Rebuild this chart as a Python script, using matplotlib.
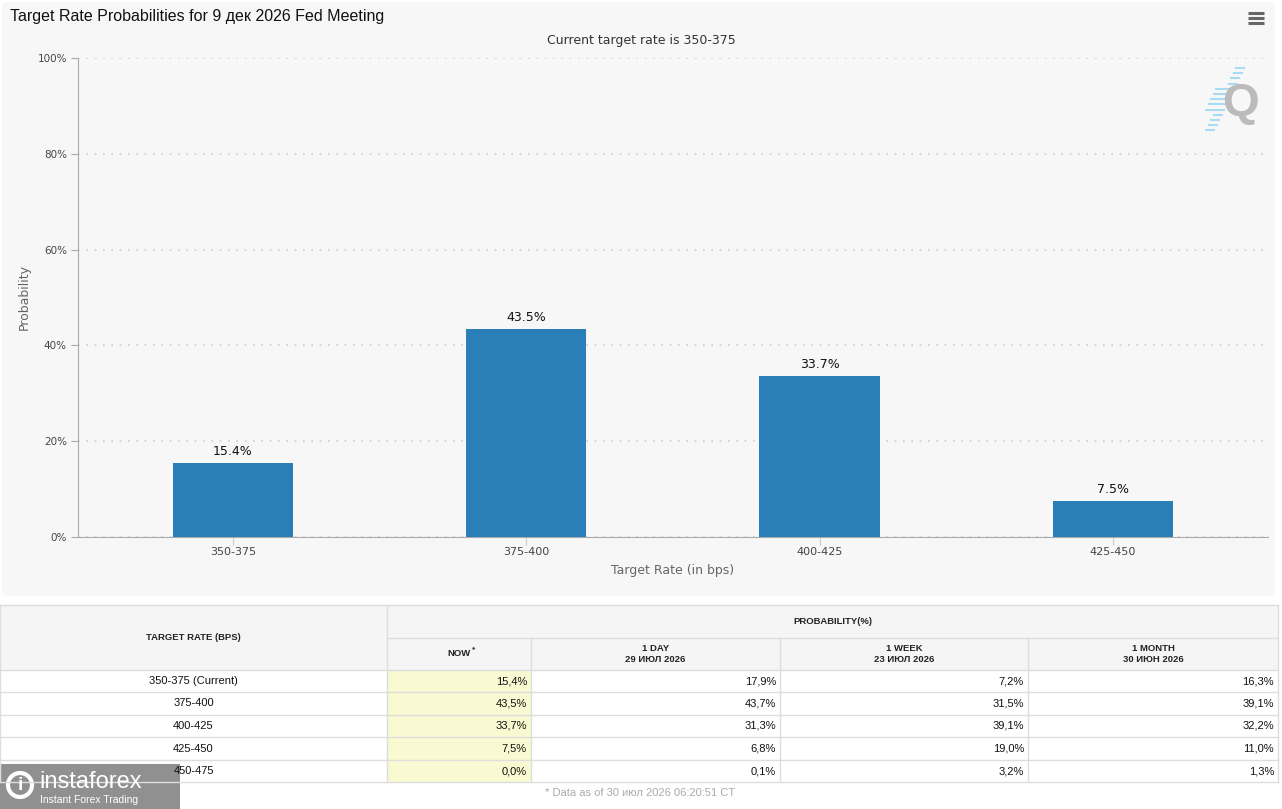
import matplotlib
matplotlib.use("Agg")
from matplotlib import pyplot as plt
from matplotlib.patches import Rectangle, FancyBboxPatch

# chart data
rates = ["350-375", "375-400", "400-425", "425-450"]
now_probs = [15.4, 43.5, 33.7, 7.5]

# table data
table_rates = ["350-375 (Current)", "375-400", "400-425", "425-450", "450-475"]
col_now = ["15,4%", "43,5%", "33,7%", "7,5%", "0,0%"]
col_day = ["17,9%", "43,7%", "31,3%", "6,8%", "0,1%"]
col_week = ["7,2%", "31,5%", "39,1%", "19,0%", "3,2%"]
col_month = ["16,3%", "39,1%", "32,2%", "11,0%", "1,3%"]
col_heads = ["NOW", "1 DAY\n29 ИЮЛ 2026", "1 WEEK\n23 ИЮЛ 2026", "1 MONTH\n30 ИЮН 2026"]

W, H = 1282, 809
BAR = "#2a7fb8"
SANS = ["DejaVu Sans"]
ARIAL = ["Liberation Sans", "DejaVu Sans"]


def rect(x0, y0, x1, y1):
    # pixel box (top-left origin) -> figure fraction
    return [x0 / W, 1 - y1 / H, (x1 - x0) / W, (y1 - y0) / H]


fig = plt.figure(figsize=(W / 100, H / 100), dpi=100)
fig.patch.set_facecolor("white")

# background overlay in pixel coordinates
bg = fig.add_axes([0, 0, 1, 1])
bg.set_xlim(0, W)
bg.set_ylim(H, 0)
bg.axis("off")
bg.add_patch(FancyBboxPatch((2, 2), 1273, 594, boxstyle="round,pad=0,rounding_size=6",
                            facecolor="#f7f7f7", edgecolor="none"))

bg.text(10, 16, "Target Rate Probabilities for 9 дек 2026 Fed Meeting", fontsize=11.5,
        family=ARIAL, color="#111111", va="center", ha="left")
bg.text(641, 40, "Current target rate is 350-375", fontsize=9, family=SANS,
        color="#333333", va="center", ha="center")
for dy in (-5, 0, 5):
    bg.plot([1248, 1264], [18 + dy, 18 + dy], color="#666666", lw=2.2, solid_capstyle="butt")

# Q watermark
for i in range(13):
    yy = 68 + i * 5.2
    xx = 1244 - i * 2.5
    ln = 4 + (14 if 3 < i < 9 else 4)
    bg.plot([xx - ln, xx], [yy, yy], color="#a9dcf2", lw=1.5)
bg.text(1240, 104, "Q", fontsize=34, family=ARIAL, fontweight="bold", color="#bbbbbb",
        ha="center", va="center")

# main chart
ax = fig.add_axes(rect(78, 58, 1268, 537))
ax.set_facecolor("none")
x = list(range(len(rates)))
bars = ax.bar(x, now_probs, width=0.41, color=BAR, zorder=3)
for b, v in zip(bars, now_probs):
    ax.text(b.get_x() + b.get_width() / 2, v + 1.0, "{:.1f}%".format(v), ha="center",
            va="bottom", fontsize=9, family=SANS, color="#111111")
ax.set_xlim(-0.528, 3.529)
ax.set_ylim(0, 100)
ax.set_yticks([0, 20, 40, 60, 80, 100])
ax.set_yticklabels(["0%", "20%", "40%", "60%", "80%", "100%"], fontsize=7.5,
                   family=SANS, color="#444444")
ax.set_xticks(x)
ax.set_xticklabels(rates, fontsize=8, family=SANS, color="#444444")
ax.tick_params(axis="y", length=5, color="#aaaaaa", pad=3)
ax.tick_params(axis="x", length=6, color="#cccccc", pad=1)
ax.grid(axis="y", color="#cfcfcf", linestyle=(0, (1, 4)), linewidth=1.2, zorder=0)
for s in ("top", "right"):
    ax.spines[s].set_visible(False)
ax.spines["left"].set_color("#aaaaaa")
ax.spines["bottom"].set_color("#aaaaaa")
ax.set_ylabel("Probability", fontsize=9, family=SANS, color="#666666", labelpad=5)
ax.set_xlabel("Target Rate (in bps)", fontsize=9, family=SANS, color="#666666", labelpad=5)

# table
cols = [0, 387, 531, 780, 1028, 1278]
rows = [605, 638, 670, 692, 715, 737, 760, 782]
line = "#dddddd"
bg.add_patch(Rectangle((0, rows[0]), cols[-1], rows[2] - rows[0], facecolor="#f5f5f5",
                       edgecolor="none"))
bg.add_patch(Rectangle((cols[1], rows[2]), cols[2] - cols[1], rows[-1] - rows[2],
                       facecolor="#fafad2", edgecolor="none"))
for r in rows:
    x0 = cols[1] if r == rows[1] else 0
    bg.plot([x0, cols[-1]], [r, r], color=line, lw=1)
bg.plot([0, 0], [rows[0], rows[-1]], color=line, lw=1)
bg.plot([cols[-1], cols[-1]], [rows[0], rows[-1]], color=line, lw=1)
bg.plot([cols[1], cols[1]], [rows[0], rows[-1]], color=line, lw=1)
for c in cols[2:-1]:
    bg.plot([c, c], [rows[1], rows[-1]], color=line, lw=1)

hkw = dict(fontsize=6.8, family=ARIAL, fontweight="bold", color="#222222",
           ha="center", va="center", linespacing=1.3)
bg.text(cols[0] + (cols[1] - cols[0]) / 2, 638, "TARGET RATE (BPS)", **hkw)
bg.text((cols[1] + cols[-1]) / 2, 622, "PROBABILITY(%)", **hkw)
for i, h in enumerate(col_heads):
    cx = (cols[i + 1] + cols[i + 2]) / 2
    bg.text(cx, 654, h, **hkw)
bg.text((cols[1] + cols[2]) / 2 + 15, 650, "*", fontsize=6, family=ARIAL,
        fontweight="bold", color="#222222", ha="center", va="center")

dkw = dict(fontsize=8, family=ARIAL, color="#111111", va="center")
for i, name in enumerate(table_rates):
    cy = (rows[i + 2] + rows[i + 3]) / 2
    bg.text((cols[0] + cols[1]) / 2, cy, name, ha="center", **dkw)
    for j, col in enumerate([col_now, col_day, col_week, col_month]):
        bg.text(cols[j + 2] - 4, cy, col[i], ha="right", **dkw)

bg.text(640, 793, "* Data as of 30 июл 2026 06:20:51 CT", fontsize=8, family=ARIAL,
        color="#aaaaaa", ha="center", va="center")

# instaforex badge
bg.add_patch(Rectangle((0, 764), 180, 45, facecolor="#8a8a8a", edgecolor="none", alpha=0.95))
bg.text(39, 782, "instaforex", fontsize=17, family=ARIAL, color="white",
        ha="left", va="center")
bg.text(40, 800, "Instant Forex Trading", fontsize=7.5, family=ARIAL, color="white",
        ha="left", va="center")
bg.add_patch(plt.Circle((20, 785), 12, facecolor="none", edgecolor="white", lw=3))
bg.text(20, 786, "i", fontsize=14, family=ARIAL, fontweight="bold", color="white",
        ha="center", va="center")

fig.savefig("out.png", dpi=100, facecolor=fig.get_facecolor())
